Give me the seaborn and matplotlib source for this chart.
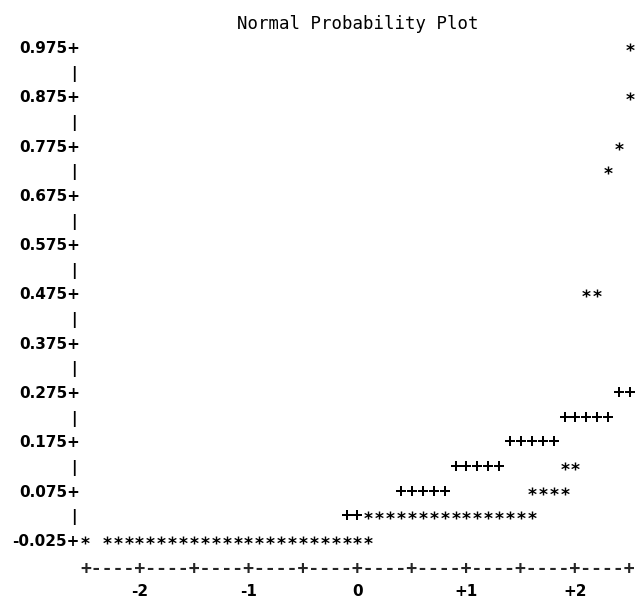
import numpy as np
import pandas as pd
import matplotlib
matplotlib.use("Agg")
import matplotlib.pyplot as plt
import seaborn as sns

# %% data
title = "Normal Probability Plot"

ytick_vals = [0.975, 0.875, 0.775, 0.675, 0.575, 0.475, 0.375, 0.275, 0.175, 0.075, -0.025]
ytick_labels = ["0.975", "0.875", "0.775", "0.675", "0.575", "0.475",
                "0.375", "0.275", "0.175", "0.075", "-0.025"]
xtick_vals = [-2, -1, 0, 1, 2]
xtick_labels = ["-2", "-1", "0", "+1", "+2"]
xaxis_ticks = [-2.5, -2.0, -1.5, -1.0, -0.5, 0.0, 0.5, 1.0, 1.5, 2.0, 2.5]

# observed data (*), one list of normal quantiles per plotted row
obs_rows = [-0.025, 0.025, 0.075, 0.125, 0.475, 0.725, 0.775, 0.875, 0.975]
obs_q = [
    [-2.5, -2.3, -2.2, -2.1, -2.0, -1.9, -1.8, -1.7, -1.6, -1.5, -1.4, -1.3, -1.2,
     -1.1, -1.0, -0.9, -0.8, -0.7, -0.6, -0.5, -0.4, -0.3, -0.2, -0.1, 0.0, 0.1],
    [0.1, 0.2, 0.3, 0.4, 0.5, 0.6, 0.7, 0.8, 0.9, 1.0, 1.1, 1.2, 1.3, 1.4, 1.5, 1.6],
    [1.6, 1.7, 1.8, 1.9],
    [1.9, 2.0],
    [2.1, 2.2],
    [2.3],
    [2.4],
    [2.5],
    [2.5],
]

# normal reference line (+)
ref_rows = [0.025, 0.075, 0.125, 0.175, 0.225, 0.275]
ref_q = [
    [-0.1, 0.0],
    [0.4, 0.5, 0.6, 0.7, 0.8],
    [0.9, 1.0, 1.1, 1.2, 1.3],
    [1.4, 1.5, 1.6, 1.7, 1.8],
    [1.9, 2.0, 2.1, 2.2, 2.3],
    [2.4, 2.5],
]

obs = pd.DataFrame(
    [(q, v) for v, qs in zip(obs_rows, obs_q) for q in qs], columns=["quantile", "value"]
)
ref = pd.DataFrame(
    [(q, v) for v, qs in zip(ref_rows, ref_q) for q in qs], columns=["quantile", "value"]
)

# %% plot
sns.set_theme(style="white")
plt.rcParams["font.family"] = ["DejaVu Sans"]

fig = plt.figure(figsize=(6.35, 5.99), dpi=100)
ax = fig.add_axes([0, 0, 1, 1])

sns.scatterplot(data=ref, x="quantile", y="value", marker=r"$\mathbf{+}$", s=46,
                color="black", linewidth=0, legend=False, ax=ax)
sns.scatterplot(data=obs, x="quantile", y="value", marker=r"$\mathbf{*}$", s=36,
                color="black", linewidth=0, legend=False, ax=ax)

ax.set_xlim(-3.2798, 2.5459)
ax.set_ylim(-0.1447, 1.0703)
ax.axis("off")

lab_kw = dict(fontsize=11, fontweight="bold", va="center_baseline", color="black")

# vertical axis: "value+" labels and "|" between them
for v, lab in zip(ytick_vals, ytick_labels):
    ax.text(-2.546, v, lab + "+", ha="right", **lab_kw)
for v in np.array(ytick_vals[:-1]) - 0.05:
    ax.text(-2.6, v, "|", ha="center", **lab_kw)

# horizontal axis drawn as a printer line
axis_line = "+" + "----+" * (len(xaxis_ticks) - 1)
ax.text(np.mean(xaxis_ticks), -0.0798, axis_line, ha="center", va="center_baseline",
        fontsize=13, fontweight="bold", family="DejaVu Sans Mono")
for x, lab in zip(xtick_vals, xtick_labels):
    ax.text(x, -0.1255, lab, ha="center", **lab_kw)

ax.text(0.0, 1.0247, title, ha="center", va="center_baseline", fontsize=12.5,
        family="DejaVu Sans Mono", color="black")

fig.savefig("out.png", dpi=100)
